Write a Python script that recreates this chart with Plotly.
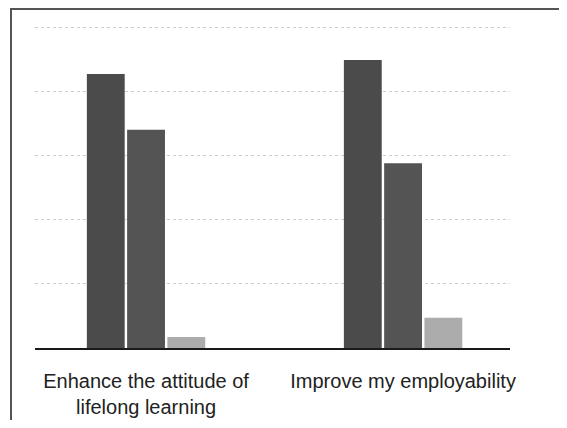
import plotly.graph_objects as go

categories = ["Enhance the attitude of<br>lifelong learning", "Improve my employability"]
series_names = ["Series 1", "Series 2", "Series 3"]
series1 = [4.27, 4.49]
series2 = [3.40, 2.88]
series3 = [0.17, 0.47]
colors = ["#4b4b4b", "#545454", "#acacac"]

fig = go.Figure()
for name, vals, c in zip(series_names, [series1, series2, series3], colors):
    fig.add_trace(go.Bar(x=categories, y=vals, name=name, marker=dict(color=c, line=dict(width=0))))

L, T, PW, PH = 27, 16, 475, 324
W, H = 551, 412
fig.update_layout(
    width=W, height=H,
    margin=dict(l=L, r=W - L - PW, t=T, b=H - T - PH, autoexpand=False),
    paper_bgcolor="white", plot_bgcolor="white",
    showlegend=False,
    barmode="group", bargap=0.53, bargroupgap=0.06,
    font=dict(family="Liberation Sans, Arial", size=20, color="#222"),
    xaxis=dict(range=[-0.432, 1.416], showline=True, linecolor="#1a1a1a", linewidth=2,
               automargin=False,
               ticks="", showgrid=False, ticklabelstandoff=14, tickfont=dict(size=20)),
    yaxis=dict(range=[0, 5.05], showticklabels=False, showgrid=True, gridcolor="#cfcfcf",
               automargin=False,
               griddash="dot", gridwidth=1, zeroline=False, dtick=1),
    shapes=[dict(type="rect", xref="paper", yref="paper",
                 x0=(3 - L) / PW, x1=(W + 20 - L) / PW,
                 y0=-1.0, y1=(PH + T - 1) / PH,
                 line=dict(color="#555", width=2), fillcolor="rgba(0,0,0,0)", layer="above")],
)
fig.write_html("out.html")
